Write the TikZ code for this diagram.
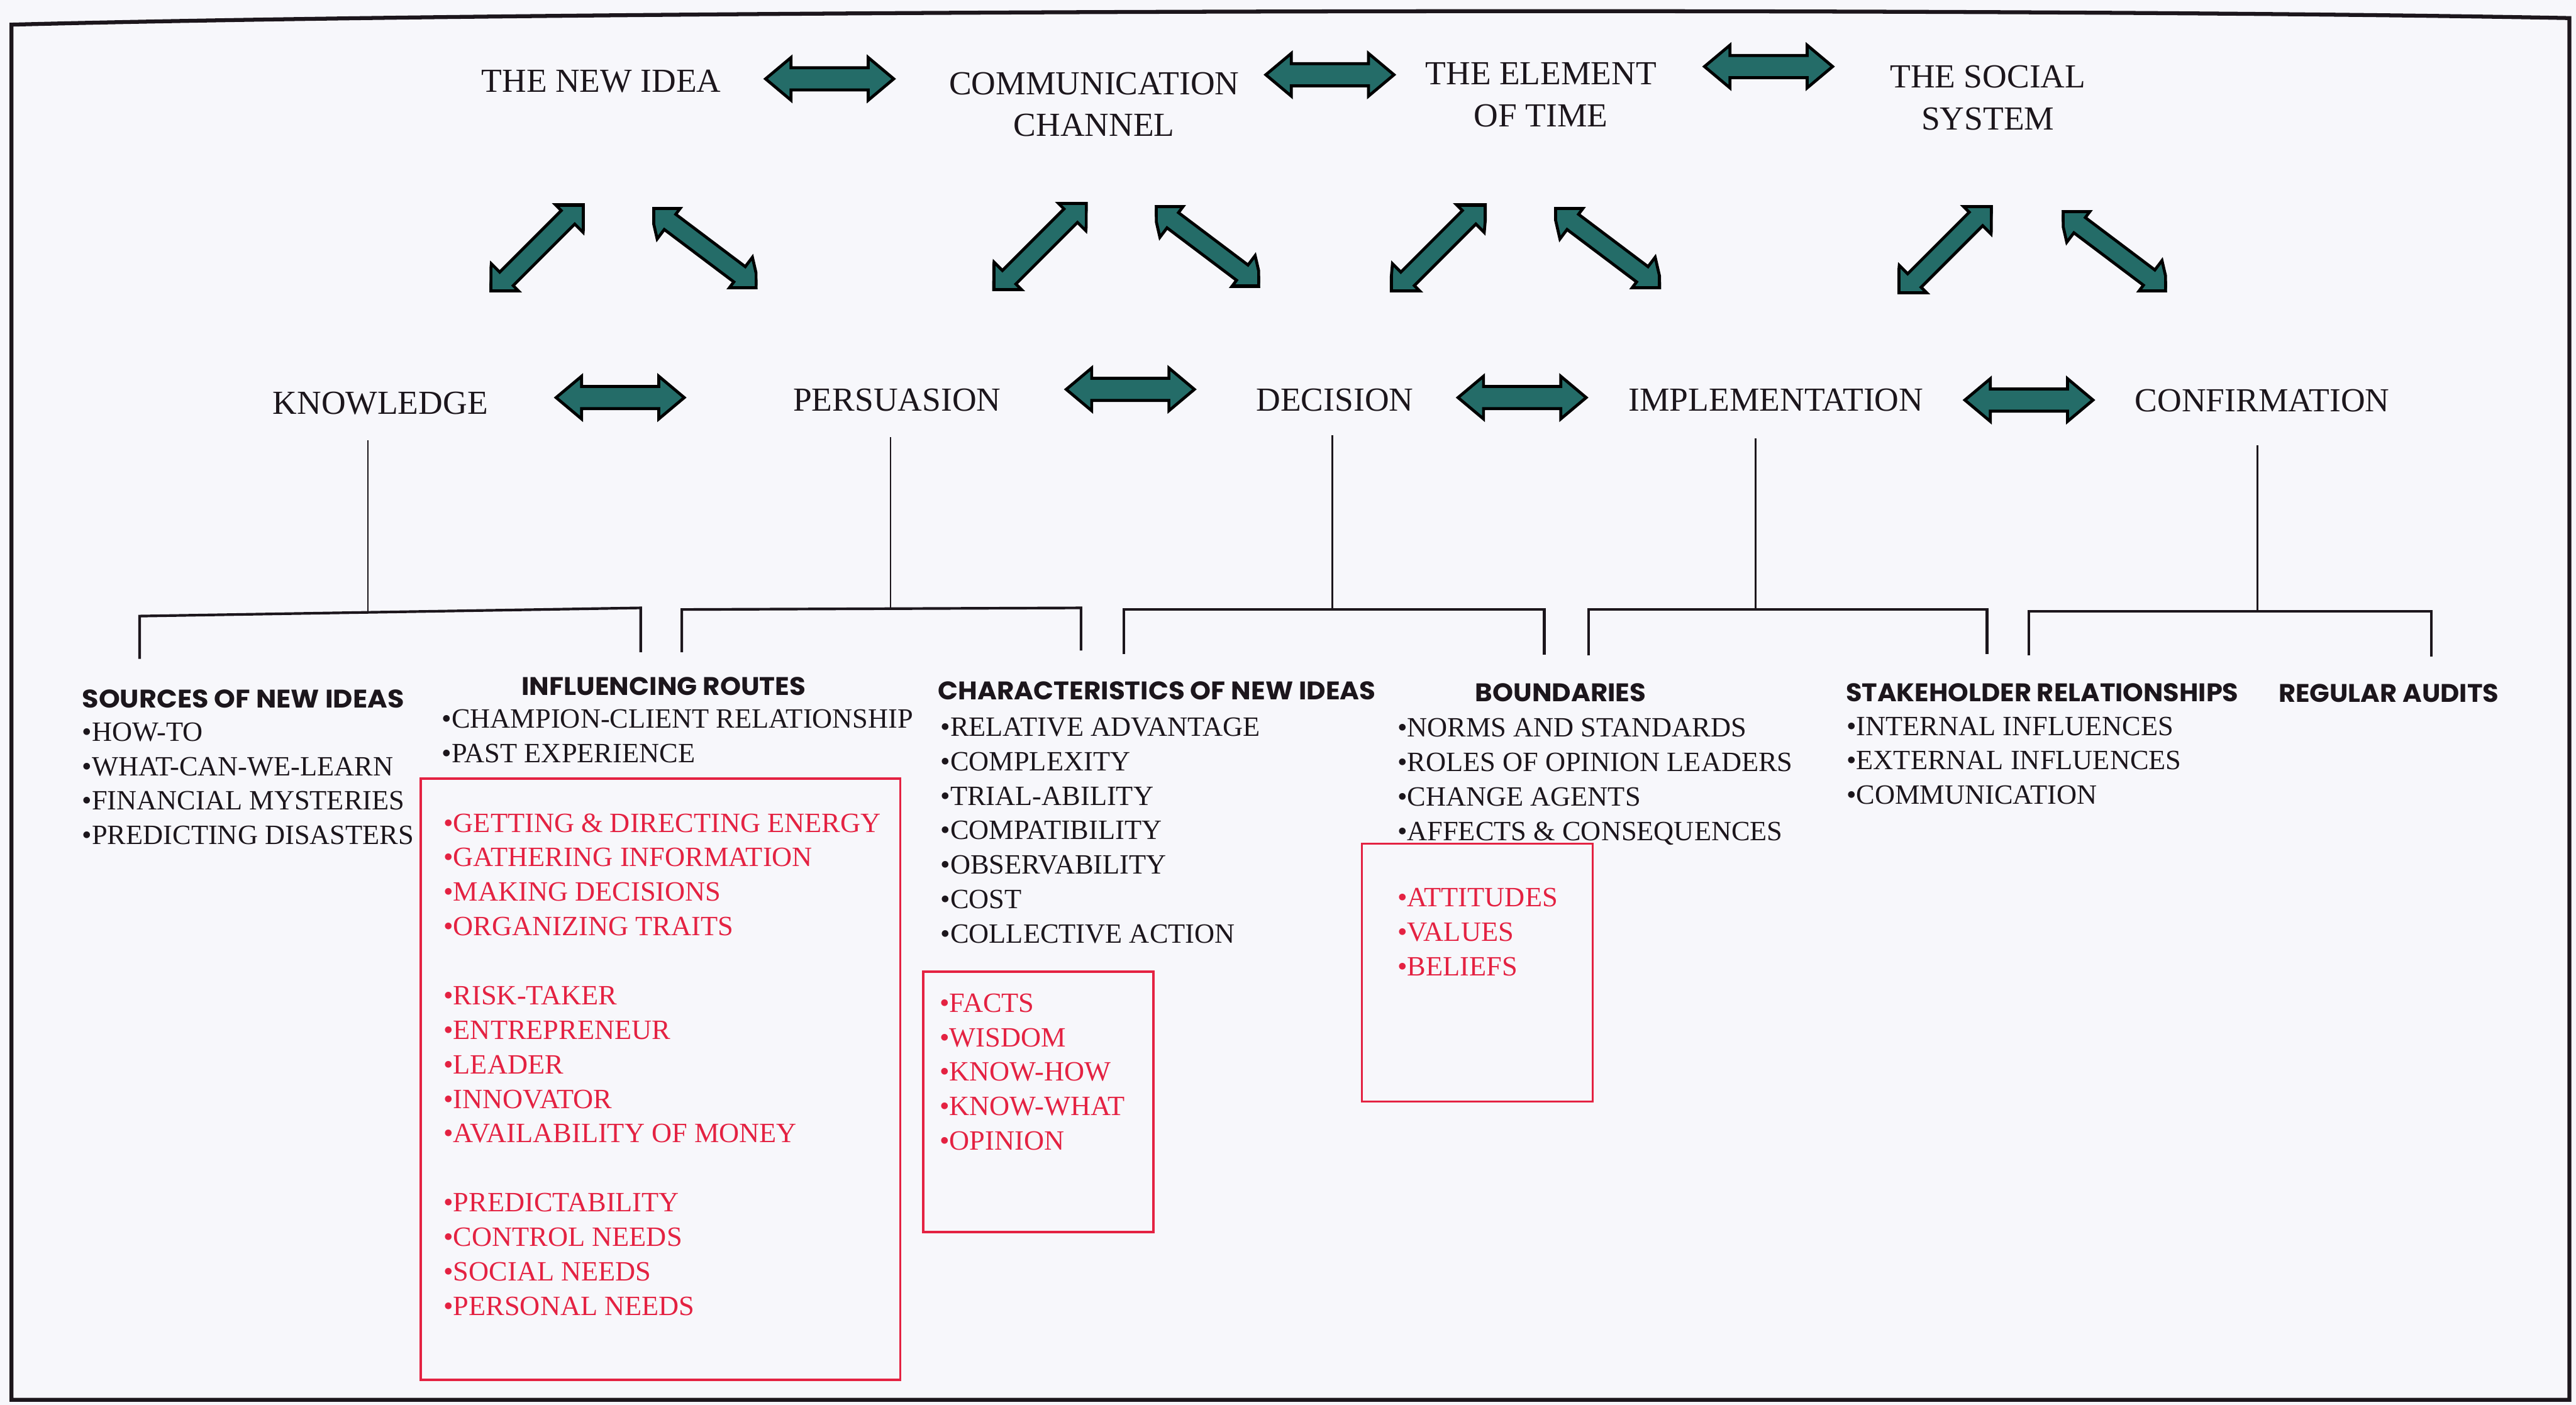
\documentclass[tikz,border=0pt]{standalone}
\usepackage{fontspec}
\usepackage{graphicx}
\setmainfont{Liberation Serif}
\newfontfamily\headfont{Poppins}
\definecolor{paper}{RGB}{247,247,251}
\definecolor{ink}{RGB}{28,22,28}
\definecolor{arrowteal}{RGB}{36,108,104}
\definecolor{redink}{RGB}{228,34,66}

% outline of a double block arrow lying along the x axis: length #1, shaft half width #2
\newcommand{\arrowpath}[2]{(-#1/2,0) -- ({-#1/2+15.5},13) -- ({-#1/2+15.5},#2) -- ({#1/2-15.5},#2) -- ({#1/2-15.5},13) -- (#1/2,0) -- ({#1/2-15.5},-13) -- ({#1/2-15.5},-#2) -- ({-#1/2+15.5},-#2) -- ({-#1/2+15.5},-13) -- cycle}

% horizontal double arrow centred at (#1,#2)
\newcommand{\flatarrow}[2]{%
  \begin{scope}[shift={(#1,#2)}]
    \filldraw[arrowbody] \arrowpath{78}{6.75};
  \end{scope}}

% slanted double arrow cut to the box (#1,#2)-(#3,#4), direction #5 degrees
\newcommand{\slantarrow}[5]{%
  \begin{scope}
    \clip (#1,#2) rectangle (#3,#4);
    \begin{scope}[shift={({(#1+#3)/2},{(#2+#4)/2})}, rotate=#5]
      \filldraw[arrowbody] \arrowpath{84}{5.8};
      \clip \arrowpath{84}{5.8};
      \draw[reset cm, line width=3.6pt, black] (#1,#2) rectangle (#3,#4);
    \end{scope}
  \end{scope}}

% bold heading squeezed to a given width (in pt)
\newcommand{\hd}[2]{\resizebox{#1pt}{\height}{#2}}

\begin{document}
\begin{tikzpicture}[x=1pt, y=-1pt,
  every node/.style={inner sep=0pt, outer sep=0pt},
  arrowbody/.style={fill=arrowteal, draw=black, line width=1.8pt, line join=miter},
  stage/.style={font=\fontsize{20.5}{25.5}\selectfont, text=ink, align=center, anchor=base},
  head/.style={font=\headfont\bfseries\fontsize{15.5}{18}\selectfont, text=ink, anchor=base west},
  items/.style={font=\fontsize{17}{21}\selectfont, text=ink, align=left, anchor=base west},
  reditems/.style={items, text=redink},
  redbox/.style={draw=redink, line width=1.4pt, anchor=north west},
  stem/.style={draw=ink, line width=1pt},
  bracket/.style={draw=ink, line width=1.6pt, line join=miter},
]
\useasboundingbox (0,0) rectangle (1568,855);
\fill[paper] (0,0) rectangle (1568,855);

% outer frame
\draw[ink, line width=2.4pt] (7,852) -- (7,15) .. controls (350,6) and (1200,4) .. (1564,11) -- (1564,852) -- cycle;

% ---- elements of diffusion (base anchor = last line) ----
\node[stage] (idea) at (366,56) {THE NEW IDEA};
\node[stage] (chan) at (666,83) {COMMUNICATION\\CHANNEL};
\node[stage] (time) at (938,77) {THE ELEMENT\\OF TIME};
\node[stage] (soc)  at (1210,79) {THE SOCIAL\\SYSTEM};

\flatarrow{505}{48}
\flatarrow{809.5}{45.5}
\flatarrow{1076.5}{40.5}

% slanted links down to the stages
\slantarrow{298}{124}{356}{178}{45}
\slantarrow{397}{126}{461}{176}{-37}
\slantarrow{604}{123}{662}{177}{45}
\slantarrow{703}{125}{767}{175}{-37}
\slantarrow{846}{124}{905}{178}{45}
\slantarrow{946}{126}{1011}{176}{-37}
\slantarrow{1155}{125}{1213}{179}{45}
\slantarrow{1255}{128}{1319}{178}{-37}

% ---- decision process stages ----
\node[stage] (know) at (231.5,252) {KNOWLEDGE};
\node[stage] (pers) at (546,250) {PERSUASION};
\node[stage] (deci) at (812.5,250) {DECISION};
\node[stage] (impl) at (1081,250) {IMPLEMENTATION};
\node[stage] (conf) at (1377,250.5) {CONFIRMATION};

\flatarrow{377.5}{242}
\flatarrow{688}{237}
\flatarrow{926.5}{242}
\flatarrow{1235}{243.5}

% stems from the stages to the brackets
\coordinate (kTop) at (224,268);   \coordinate (kJoin) at (224,372.5);
\coordinate (pTop) at (542,266);   \coordinate (pJoin) at (542,371);
\coordinate (dTop) at (811,265);   \coordinate (dJoin) at (811,371);
\coordinate (iTop) at (1068.5,267);\coordinate (iJoin) at (1068.5,371);
\coordinate (cTop) at (1374,271);  \coordinate (cJoin) at (1374,372);
\draw[stem] (kTop) -- (kJoin);
\draw[stem] (pTop) -- (pJoin);
\draw[stem] (dTop) -- (dJoin);
\draw[stem] (iTop) -- (iJoin);
\draw[stem] (cTop) -- (cJoin);

% brackets
\coordinate (b1a) at (85,401);   \coordinate (b1b) at (85,375);   \coordinate (b1c) at (390,370);  \coordinate (b1d) at (390,397);
\coordinate (b2a) at (415,397);  \coordinate (b2b) at (415,371);  \coordinate (b2c) at (658,370);  \coordinate (b2d) at (658,396);
\coordinate (b3a) at (684,398);  \coordinate (b3b) at (684,371);  \coordinate (b3c) at (940,371);  \coordinate (b3d) at (940,398.5);
\coordinate (b4a) at (967,399);  \coordinate (b4b) at (967,371);  \coordinate (b4c) at (1209.5,371);\coordinate (b4d) at (1209.5,398);
\coordinate (b5a) at (1235,399); \coordinate (b5b) at (1235,372); \coordinate (b5c) at (1480,372); \coordinate (b5d) at (1480,399.5);
\draw[bracket] (b1a) -- (b1b) -- (b1c) -- (b1d);
\draw[bracket] (b2a) -- (b2b) -- (b2c) -- (b2d);
\draw[bracket] (b3a) -- (b3b) -- (b3c) -- (b3d);
\draw[bracket] (b4a) -- (b4b) -- (b4c) -- (b4d);
\draw[bracket] (b5a) -- (b5b) -- (b5c) -- (b5d);

% ---- headings ----
\node[head] (hSrc)  at (50,431)      {\hd{196}{SOURCES OF NEW IDEAS}};
\node[head] (hInf)  at (317.5,423)   {\hd{173}{INFLUENCING ROUTES}};
\node[head] (hChar) at (571,426)     {\hd{266.5}{CHARACTERISTICS OF NEW IDEAS}};
\node[head] (hBnd)  at (898,427)     {\hd{104}{BOUNDARIES}};
\node[head] (hStk)  at (1123.6,427)  {\hd{239}{STAKEHOLDER RELATIONSHIPS}};
\node[head] (hAud)  at (1387,427.5)  {\hd{134}{REGULAR AUDITS}};

% ---- item lists (base anchor = last line) ----
\node[items] (lSrc) at (50,514) {•HOW-TO\\•WHAT-CAN-WE-LEARN\\•FINANCIAL MYSTERIES\\•PREDICTING DISASTERS};
\node[items] (lInf) at (269,464) {•CHAMPION-CLIENT RELATIONSHIP\\•PAST EXPERIENCE};
\node[items] (lChar) at (572.5,574) {•RELATIVE ADVANTAGE\\•COMPLEXITY\\•TRIAL-ABILITY\\•COMPATIBILITY\\•OBSERVABILITY\\•COST\\•COLLECTIVE ACTION};
\node[items] (lBnd) at (850.6,511.6) {•NORMS AND STANDARDS\\•ROLES OF OPINION LEADERS\\•CHANGE AGENTS\\•AFFECTS \& CONSEQUENCES};
\node[items] (lStk) at (1124,489.5) {•INTERNAL INFLUENCES\\•EXTERNAL INFLUENCES\\•COMMUNICATION};

% ---- red boxes ----
\node[redbox, minimum width=292pt, minimum height=366pt] (rInf) at (256,474) {};
\node[reditems] (rlInf) at (270,800.5) {•GETTING \& DIRECTING ENERGY\\•GATHERING INFORMATION\\•MAKING DECISIONS\\•ORGANIZING TRAITS\\[21pt]•RISK-TAKER\\•ENTREPRENEUR\\•LEADER\\•INNOVATOR\\•AVAILABILITY OF MONEY\\[21pt]•PREDICTABILITY\\•CONTROL NEEDS\\•SOCIAL NEEDS\\•PERSONAL NEEDS};

\node[redbox, minimum width=140pt, minimum height=158.5pt] (rChar) at (562,591.5) {};
\node[reditems] (rlChar) at (572,700) {•FACTS\\•WISDOM\\•KNOW-HOW\\•KNOW-WHAT\\•OPINION};

\node[redbox, minimum width=140.5pt, minimum height=157pt] (rBnd) at (829,513.5) {};
\node[reditems] (rlBnd) at (850.6,594) {•ATTITUDES\\•VALUES\\•BELIEFS};

\end{tikzpicture}
\end{document}
